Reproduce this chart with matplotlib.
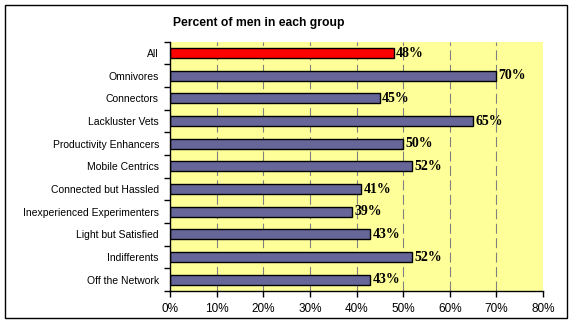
import matplotlib
matplotlib.use("Agg")
import matplotlib.pyplot as plt
from matplotlib.patches import Rectangle

# Chart data
groups = ["All", "Omnivores", "Connectors", "Lackluster Vets", "Productivity Enhancers",
          "Mobile Centrics", "Connected but Hassled", "Inexperienced Experimenters",
          "Light but Satisfied", "Indifferents", "Off the Network"]
pct_men = [48, 70, 45, 65, 50, 52, 41, 39, 43, 52, 43]
x_ticks = [0, 10, 20, 30, 40, 50, 60, 70, 80]
x_tick_labels = [f"{t}%" for t in x_ticks]

W, H = 576, 336
fig = plt.figure(figsize=(W / 100, H / 100), dpi=100)
fig.patch.set_facecolor("white")

# Axes placed to match the Excel plot area
ax = fig.add_axes([170 / W, 1 - 291 / H, (543 - 170) / W, (291 - 41.7) / H])
ax.set_facecolor("#FFFF99")

colors = ["#FF0000"] + ["#666699"] * (len(groups) - 1)
ypos = list(range(len(groups)))
ax.barh(ypos, pct_men, height=0.45, color=colors, edgecolor="black", linewidth=1, zorder=3)

# Value labels
for y, v in zip(ypos, pct_men):
    ax.text(v + 0.5, y, f"{v}%", va="center", ha="left", fontsize=10, fontweight="bold",
            family="Liberation Serif", zorder=4)

ax.set_xlim(0, 80)
ax.set_ylim(len(groups) - 0.5, -0.5)
ax.set_xticks(x_ticks)
ax.set_xticklabels(x_tick_labels, family="Liberation Sans", fontsize=8.5)
ax.set_yticks(ypos)
ax.set_yticklabels(groups, family="Liberation Sans", fontsize=7.5)
ax.tick_params(axis="y", which="major", length=0, pad=8)
ax.set_yticks([i - 0.5 for i in range(len(groups) + 1)], minor=True)
ax.tick_params(axis="y", which="minor", length=4, width=1, direction="out")
ax.tick_params(axis="x", length=4, width=1, direction="out", pad=5)

# Dashed gray gridlines
ax.grid(axis="x", color="#808080", linewidth=0.8, linestyle=(0, (9, 4)), zorder=1)
ax.set_axisbelow(True)
gl = ax.get_xgridlines()
gl[0].set_visible(False)
gl[-1].set_visible(False)

for s in ["top", "right"]:
    ax.spines[s].set_visible(False)
for s in ["left", "bottom"]:
    ax.spines[s].set_linewidth(1)
    ax.spines[s].set_zorder(5)

fig.text(259 / W, 1 - 23 / H, "Percent of men in each group", ha="center", va="center",
         fontsize=8.7, fontweight="bold", family="Liberation Sans")

# Chart border
fig.patches.append(Rectangle((4.5 / W, 1 - 318 / H), (567 - 4.5) / W, (318 - 5) / H,
                             transform=fig.transFigure, fill=False, edgecolor="black",
                             linewidth=1))

fig.savefig("out.png", dpi=100)
